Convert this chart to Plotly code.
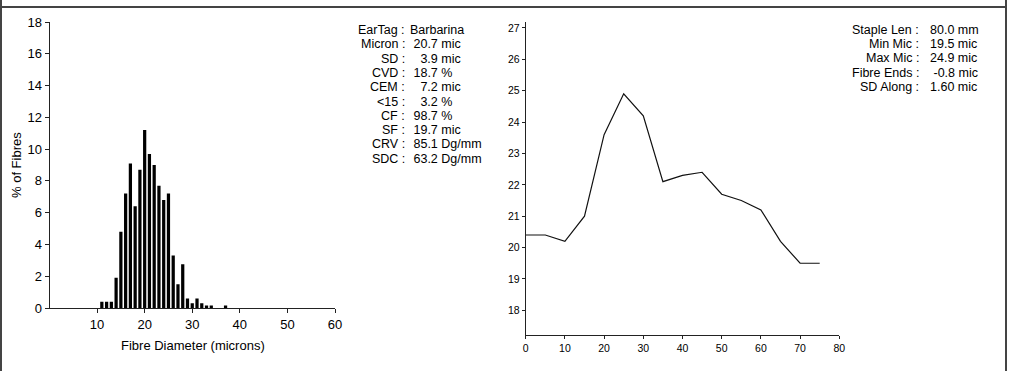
import plotly.graph_objects as go

# ---------------- data ----------------
diam_microns = [11, 12, 13, 14, 15, 16, 17, 18, 19, 20, 21, 22, 23, 24, 25,
                26, 27, 28, 29, 30, 31, 32, 33, 34, 35, 36, 37]
pct_fibres = [0.4, 0.4, 0.4, 1.9, 4.8, 7.2, 9.1, 6.4, 8.7, 11.2, 9.7, 9.0, 7.7, 6.8, 7.2,
              3.3, 1.5, 2.75, 0.6, 0.3, 0.6, 0.3, 0.15, 0.15, 0.0, 0.0, 0.15]

staple_pos = [0, 5, 10, 15, 20, 25, 30, 35, 40, 45, 50, 55, 60, 65, 70, 75]
micron_along = [20.4, 20.4, 20.2, 21.0, 23.6, 24.9, 24.2, 22.1, 22.3, 22.4,
                21.7, 21.5, 21.2, 20.2, 19.5, 19.5]

hist_xticks = [10, 20, 30, 40, 50, 60]
hist_yticks = [0, 2, 4, 6, 8, 10, 12, 14, 16, 18]
prof_xticks = [0, 10, 20, 30, 40, 50, 60, 70, 80]
prof_yticks = [18, 19, 20, 21, 22, 23, 24, 25, 26, 27]

NB = "\u00a0"
stat_labels = ["EarTag :", "Micron :", "SD :", "CVD :", "CEM :", "<15 :", "CF :", "SF :", "CRV :", "SDC :"]
stat_values = ["Barbarina", NB + "20.7 mic", NB * 3 + "3.9 mic", NB + "18.7 %", NB * 3 + "7.2 mic",
               NB * 3 + "3.2 %", NB + "98.7 %", NB + "19.7 mic", NB + "85.1 Dg/mm", NB + "63.2 Dg/mm"]

prof_labels = ["Staple Len :", "Min Mic :", "Max Mic :", "Fibre Ends :", "SD Along :"]
prof_values = ["80.0 mm", "19.5 mic", "24.9 mic", NB + "-0.8 mic", "1.60 mic"]

# ---------------- figure ----------------
W, H = 1024, 371
FONT = "Liberation Sans, Arial, sans-serif"

def px_x(p):
    return p / W

def px_y(p):
    return 1 - p / H

fig = go.Figure()
fig.add_trace(go.Bar(x=diam_microns, y=pct_fibres, width=0.68,
                     marker=dict(color="black", line=dict(width=0)),
                     xaxis="x", yaxis="y", showlegend=False))
fig.add_trace(go.Scatter(x=staple_pos, y=micron_along, mode="lines",
                         line=dict(color="#111", width=1.2),
                         xaxis="x2", yaxis="y2", showlegend=False))

axis_common = dict(showgrid=False, zeroline=False, showline=True, linecolor="#222",
                   linewidth=1, ticks="outside", tickcolor="#222", color="black",
                   automargin=False)

fig.update_layout(
    template="none",
    width=W, height=H, margin=dict(l=0, r=0, t=0, b=0, pad=0),
    paper_bgcolor="white", plot_bgcolor="white",
    font=dict(family=FONT, color="black"),
    xaxis=dict(domain=[px_x(49.5), px_x(335)], range=[0, 60], tickvals=hist_xticks,
               ticklen=4, tickfont=dict(size=13), anchor="y", **axis_common),
    yaxis=dict(domain=[px_y(308), px_y(22)], range=[0, 18], tickvals=hist_yticks,
               ticklen=4, tickfont=dict(size=13), anchor="x", **axis_common),
    xaxis2=dict(domain=[px_x(525.7), px_x(839.3)], range=[0, 80], tickvals=prof_xticks,
                ticklen=3, tickfont=dict(size=10.5), anchor="y2", **axis_common),
    yaxis2=dict(domain=[px_y(335.4), px_y(21.7)], range=[17.2, 27.2], tickvals=prof_yticks,
                ticklen=3, tickfont=dict(size=10.5), anchor="x2", **axis_common),
)

ann = []
ann.append(dict(text="Fibre Diameter (microns)", x=px_x(193), y=px_y(345), xref="paper", yref="paper",
                showarrow=False, font=dict(size=13), xanchor="center", yanchor="middle"))
ann.append(dict(text="% of Fibres", x=px_x(16), y=px_y(165), xref="paper", yref="paper",
                showarrow=False, font=dict(size=13), textangle=-90, xanchor="center", yanchor="middle"))

for i, (lab, val) in enumerate(zip(stat_labels, stat_values)):
    yy = px_y(30 + i * 14.3)
    ann.append(dict(text=lab, x=px_x(407), y=yy, xref="paper", yref="paper", showarrow=False,
                    font=dict(size=12.5), xanchor="right", yanchor="middle"))
    ann.append(dict(text=val, x=px_x(408), y=yy, xref="paper", yref="paper", showarrow=False,
                    font=dict(size=12.5), xanchor="left", yanchor="middle"))

for i, (lab, val) in enumerate(zip(prof_labels, prof_values)):
    yy = px_y(30 + i * 14.2)
    ann.append(dict(text=lab, x=px_x(921), y=yy, xref="paper", yref="paper", showarrow=False,
                    font=dict(size=12.5), xanchor="right", yanchor="middle"))
    ann.append(dict(text=val, x=px_x(928), y=yy, xref="paper", yref="paper", showarrow=False,
                    font=dict(size=12.5), xanchor="left", yanchor="middle"))

fig.update_layout(annotations=ann)

frame = dict(type="line", xref="paper", yref="paper", line=dict(color="#444", width=2))
fig.update_layout(shapes=[
    dict(frame, x0=0, x1=px_x(1006), y0=px_y(7), y1=px_y(7)),
    dict(frame, x0=px_x(1), x1=px_x(1), y0=0, y1=1),
    dict(frame, x0=px_x(1006), x1=px_x(1006), y0=0, y1=1),
])

fig.write_html("out.html", config={"displayModeBar": False},
               post_script="document.body.style.margin='0';document.body.style.overflow='hidden';")
